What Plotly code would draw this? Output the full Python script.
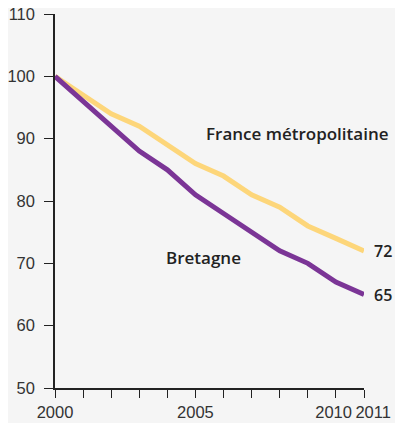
import plotly.graph_objects as go

years = list(range(2000, 2012))
france = [100, 97, 94, 92, 89, 86, 84, 81, 79, 76, 74, 72]
bretagne = [100, 96, 92, 88, 85, 81, 78, 75, 72, 70, 67, 65]
x_major_vals = [2000, 2005, 2010]
x_labels = {2000: "2000", 2005: "2005", 2010: "2010\u00a0", 2011: "\u00a0\u00a0\u00a0\u00a02011"}
y_tick_vals = [50, 60, 70, 80, 90, 100, 110]

YELLOW = "#fdd67a"
PURPLE = "#7b3596"
TICKFONT = "Liberation Sans, Arial, sans-serif"
LABELFONT = "Open Sans, Liberation Sans, sans-serif"
TICKSIZE = 16.5
PAGE_MARGIN = 8  # default browser body margin

fig = go.Figure()
fig.add_trace(go.Scatter(x=years, y=france, mode="lines",
                         line=dict(color=YELLOW, width=5), showlegend=False))
fig.add_trace(go.Scatter(x=years, y=bretagne, mode="lines",
                         line=dict(color=PURPLE, width=5), showlegend=False))

lab = dict(size=17, color="#222", family=LABELFONT, weight=600)
end_lab = dict(size=16, color="#222", family=LABELFONT, weight=600)
fig.add_annotation(x=years[-1], y=france[-1], text="72", showarrow=False,
                   xanchor="left", xshift=8, font=end_lab)
fig.add_annotation(x=years[-1], y=bretagne[-1], text="65", showarrow=False,
                   xanchor="left", xshift=8, font=end_lab)
fig.add_annotation(x=2008.65, y=90.9, text="France métropolitaine", showarrow=False,
                   font=lab)
fig.add_annotation(x=2005.27, y=71.0, text="Bretagne", showarrow=False,
                   font=lab)

fig.update_layout(
    width=403 - PAGE_MARGIN, height=423 - PAGE_MARGIN,
    margin=dict(l=55 - PAGE_MARGIN, r=39, t=14 - PAGE_MARGIN, b=35),
    paper_bgcolor="#f5f5f5", plot_bgcolor="rgba(0,0,0,0)",
    font=dict(family=TICKFONT, size=TICKSIZE, color="#333"),
    xaxis=dict(range=[2000, 2011], tickvals=years,
               ticktext=[x_labels.get(y, "") for y in years],
               tickangle=0, automargin=False, ticklabeloverflow="allow",
               ticks="outside", ticklen=8, tickwidth=1.3, tickcolor="#222",
               showline=True, linecolor="#222", linewidth=1.5, showgrid=False,
               zeroline=False, tickfont=dict(size=TICKSIZE, color="#333")),
    xaxis2=dict(range=[2000, 2011], overlaying="x", anchor="y", side="bottom",
                tickvals=x_major_vals, ticks="outside", ticklen=14, tickwidth=1.3,
                tickcolor="#222", showticklabels=False, showgrid=False,
                automargin=False, zeroline=False, showline=False),
    yaxis=dict(range=[50, 110], tickvals=y_tick_vals, ticks="outside", ticklen=9,
               tickwidth=1.3, tickcolor="#222", showline=True, linecolor="#222",
               linewidth=1.5, showgrid=False, zeroline=False, automargin=False,
               ticklabeloverflow="allow",
               ticklabelstandoff=6, tickfont=dict(size=TICKSIZE, color="#333")),
)

fig.write_html("out.html", config={"displayModeBar": False})
